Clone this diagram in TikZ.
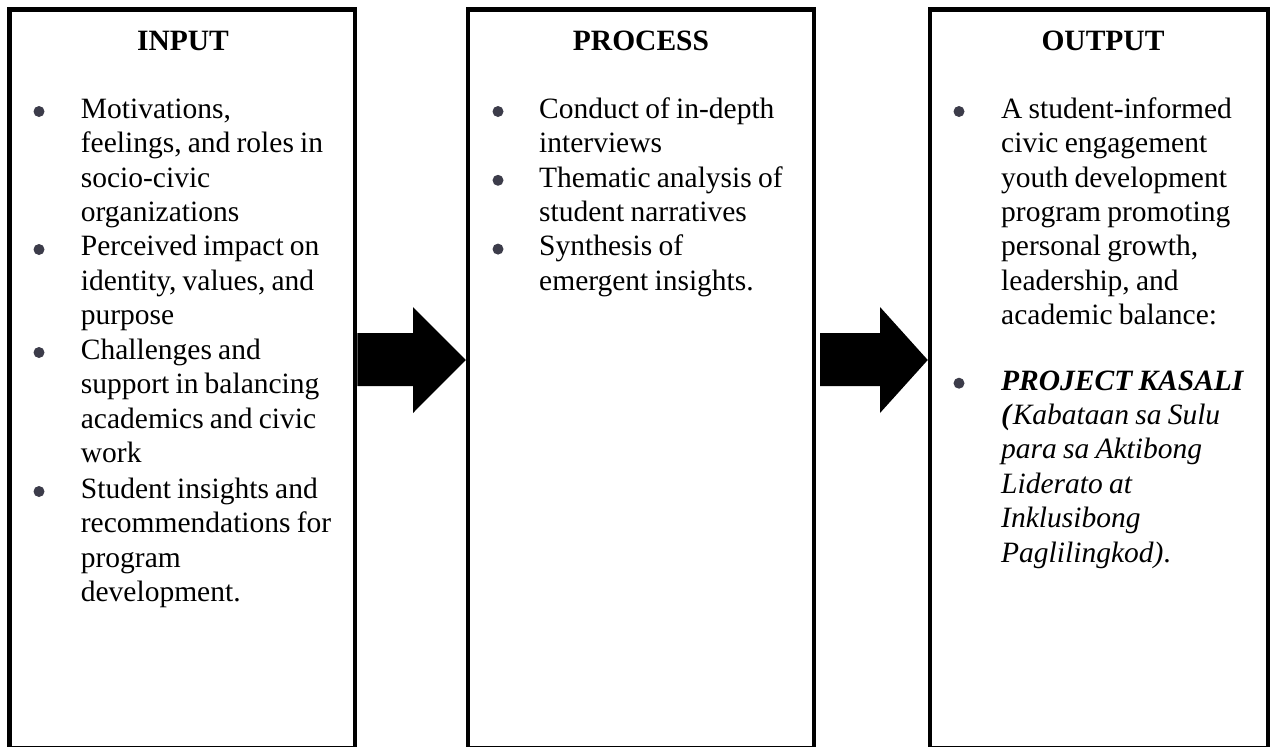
\documentclass[tikz,border=0pt]{standalone}
\usepackage{fontspec}
\setmainfont{Liberation Serif}
\usetikzlibrary{calc}
\definecolor{bulletgray}{HTML}{3C3C4A}
\newcommand{\tightsp}{\spaceskip=0.21em\relax}
\begin{document}
\begin{tikzpicture}[x=1pt,y=-1pt,
  box/.style={draw=black, line width=4.5pt, rectangle, inner sep=0pt},
  head/.style={font=\fontsize{29.5}{34.4}\selectfont\bfseries, anchor=base, inner sep=0pt},
  item/.style={font=\fontsize{29.5}{34.4}\selectfont, anchor=base west, inner sep=0pt, text width=300pt},
  dot/.style={circle, fill=bulletgray, inner sep=0pt, minimum size=11pt},
  blockarrow/.style={fill=black}]
\useasboundingbox (0,0) rectangle (1270,747);
% boxes
\node[box, minimum width=345.5pt, minimum height=738.5pt] (input) at (182.25,378.75) {};
\node[box, minimum width=346pt, minimum height=738.5pt] (process) at (641,378.75) {};
\node[box, minimum width=338pt, minimum height=738.5pt] (output) at (1099,378.75) {};
% headings
\node[head] (inhead) at (183,50) {INPUT};
\node[head] (prhead) at (641,50) {PROCESS};
\node[head] (outhead) at (1103,50) {OUTPUT};
% input items
\node[dot] (ib1) at (39,111.5) {};
\node[item] (i1) at (80.7,118.3) {\tightsp Motivations,\\feelings, and roles in\\socio-civic\\organizations};
\node[dot] (ib2) at (39,249.5) {};
\node[item] (i2) at (80.7,255.9) {\tightsp Perceived impact on\\identity, values, and\\purpose};
\node[dot] (ib3) at (39,352.5) {};
\node[item] (i3) at (80.7,359.3) {\tightsp Challenges and\\support in balancing\\academics and civic\\work};
\node[dot] (ib4) at (39,491.5) {};
\node[item] (i4) at (80.7,498.3) {\tightsp Student insights and\\recommendations for\\program\\development.};
% process items
\node[dot] (pb1) at (498,111.5) {};
\node[item] (p1) at (539,118.3) {\tightsp Conduct of in-depth\\interviews};
\node[dot] (pb2) at (498,180.3) {};
\node[item] (p2) at (539,187.1) {\tightsp Thematic analysis of\\student narratives};
\node[dot] (pb3) at (498,249.1) {};
\node[item] (p3) at (539,255.9) {\tightsp Synthesis of\\emergent insights.};
% output items
\node[dot] (ob1) at (959,111.5) {};
\node[item] (o1) at (1001,118.3) {\tightsp A student-informed\\civic engagement\\youth development\\program promoting\\personal growth,\\leadership, and\\academic balance:};
\node[dot] (ob2) at (959,383.2) {};
\node[item] (o2) at (1001,390) {\tightsp\textbf{\textit{PROJECT KASALI}}\\\textbf{\textit{(}}\textit{Kabataan sa Sulu}\\\textit{para sa Aktibong}\\\textit{Liderato at}\\\textit{Inklusibong}\\\textit{Paglilingkod)}.};
% block arrows
\coordinate (s1t) at (0,333);
\coordinate (s1b) at (0,386);
\coordinate (mid) at (0,360);
\fill[blockarrow] (input.east |- s1t) -- (413,333) -- (413,307) -- (process.west |- mid) -- (413,413) -- (413,386) -- (input.east |- s1b) -- cycle;
\fill[blockarrow] (820,333) -- (880,333) -- (880,307) -- (output.west |- mid) -- (880,413) -- (880,386) -- (820,386) -- cycle;
\end{tikzpicture}
\end{document}
